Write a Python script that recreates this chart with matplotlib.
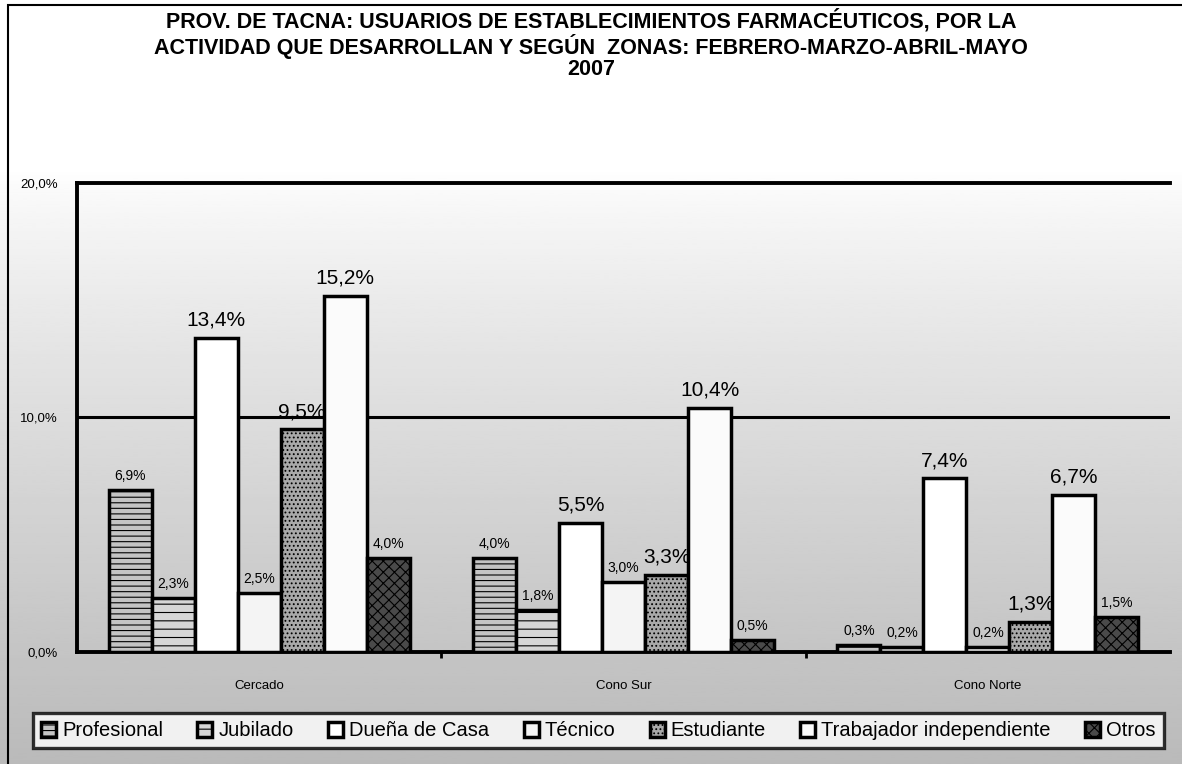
import numpy as np
import matplotlib
matplotlib.use("Agg")
import matplotlib.pyplot as plt
from matplotlib.patches import Rectangle

zonas = ["Cercado", "Cono Sur", "Cono Norte"]
actividades = ["Profesional", "Jubilado", "Dueña de Casa", "Técnico",
               "Estudiante", "Trabajador independiente", "Otros"]
# porcentaje por zona, una lista por actividad
profesional = [6.9, 4.0, 0.3]
jubilado = [2.3, 1.8, 0.2]
duena_casa = [13.4, 5.5, 7.4]
tecnico = [2.5, 3.0, 0.2]
estudiante = [9.5, 3.3, 1.3]
trabajador = [15.2, 10.4, 6.7]
otros = [4.0, 0.5, 1.5]
series = [profesional, jubilado, duena_casa, tecnico, estudiante, trabajador, otros]

colores = ["#c4c4c4", "#d6d6d6", "#ffffff", "#f4f4f4", "#a9a9a9", "#fbfbfb", "#4a4a4a"]
tramas = ["---", "--", "", "", "....", "", "xxx"]
grandes = [2, 4, 5]  # etiquetas con letra grande

plt.rcParams["font.family"] = ["Liberation Sans", "DejaVu Sans"]
plt.rcParams["hatch.color"] = "#6a6a6a"
plt.rcParams["hatch.linewidth"] = 0.8

fig = plt.figure(figsize=(11.82, 7.64), dpi=100)

# fondo punteado del original aproximado con un degradado
bg = fig.add_axes([0, 0, 1, 1], zorder=-10)
grad = np.linspace(0, 1, 256).reshape(-1, 1)
grad = np.clip((grad - 0.22) / 0.78, 0, 1) ** 0.8
bg.imshow(1 - 0.27 * grad, aspect="auto", cmap="gray", vmin=0, vmax=1,
          extent=[0, 1, 0, 1], origin="upper")
bg.set_axis_off()
fig.patches.append(Rectangle((0.007, -0.01), 1.2, 1.003, transform=fig.transFigure,
                             fill=False, edgecolor="black", linewidth=1.5))

ax = fig.add_axes([0.0651, 0.1466, 0.9249, 0.6139])
ax.patch.set_alpha(0)

x = np.arange(len(zonas))
ancho = 0.118
for i, (vals, nombre) in enumerate(zip(series, actividades)):
    pos = x + (i - 3) * ancho
    bars = ax.bar(pos, vals, ancho, color=colores[i], hatch=tramas[i],
                  edgecolor="black", linewidth=2.5, label=nombre, zorder=3)
    for b, v in zip(bars, vals):
        grande = i in grandes
        ax.text(b.get_x() + b.get_width() / 2, v + (0.35 if grande else 0.3),
                f"{v:.1f}%".replace(".", ","), ha="center", va="bottom",
                fontsize=15 if grande else 10, zorder=4)

ax.set_xlim(-0.5, 2.5)
ax.set_ylim(0, 20)
ax.set_yticks([0, 10, 20])
ax.set_yticklabels(["0,0%", "10,0%", "20,0%"], fontsize=9.5)
ax.set_xticks(x)
ax.set_xticklabels(zonas, fontsize=9.5)
ax.set_xticks([0.5, 1.5], minor=True)
ax.tick_params(axis="x", which="major", length=0, pad=20)
ax.tick_params(axis="x", which="minor", length=4, width=2)
ax.tick_params(axis="y", length=0, pad=14)
ax.axhline(10, color="black", linewidth=2.2, zorder=1)
for s in ["left", "bottom", "top"]:
    ax.spines[s].set_linewidth(2.8)
ax.spines["right"].set_visible(False)

leg = ax.legend(loc="center", bbox_to_anchor=(0.477, -0.168), ncol=7,
                fontsize=14.5, frameon=True, fancybox=False, edgecolor="black",
                handlelength=0.75, handleheight=0.75, handletextpad=0.3,
                columnspacing=1.7, borderpad=0.4)
leg.get_frame().set_linewidth(2.4)
leg.get_frame().set_facecolor((1, 1, 1, 0.35))

fig.text(0.5, 0.988,
         "PROV. DE TACNA: USUARIOS DE ESTABLECIMIENTOS FARMACÉUTICOS, POR LA\n"
         "ACTIVIDAD QUE DESARROLLAN Y SEGÚN  ZONAS: FEBRERO-MARZO-ABRIL-MAYO\n"
         "2007", ha="center", va="top", fontsize=15.5, fontweight="bold",
         linespacing=1.05)

fig.savefig("out.png", dpi=100)
